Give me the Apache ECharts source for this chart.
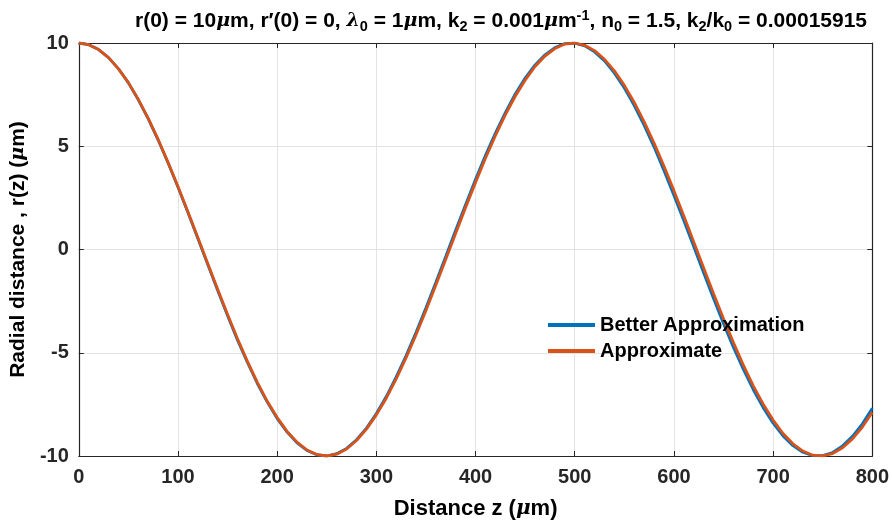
<!DOCTYPE html>
<html>
<head>
<meta charset="utf-8">
<script src="https://cdn.jsdelivr.net/npm/echarts@6/dist/echarts.min.js"></script>
<style>
  html, body { margin: 0; padding: 0; background: #fff; }
  #chart { width: 892px; height: 525px; }
</style>
</head>
<body>
<div id="chart"></div>
<script>
// z positions (um), every 10 um
const zVals = [0, 10, 20, 30, 40, 50, 60, 70, 80, 90, 100, 110, 120, 130, 140, 150, 160, 170, 180, 190,
  200, 210, 220, 230, 240, 250, 260, 270, 280, 290, 300, 310, 320, 330, 340, 350, 360, 370, 380, 390,
  400, 410, 420, 430, 440, 450, 460, 470, 480, 490, 500, 510, 520, 530, 540, 550, 560, 570, 580, 590,
  600, 610, 620, 630, 640, 650, 660, 670, 680, 690, 700, 710, 720, 730, 740, 750, 760, 770, 780, 790, 800];
// blue curve, r(z) in um
const betterVals = [10.00, 9.92, 9.68, 9.29, 8.75, 8.07, 7.25, 6.33, 5.30, 4.19, 3.01, 1.79, 0.53, -0.73,
  -1.99, -3.21, -4.39, -5.47, -6.49, -7.39, -8.19, -8.84, -9.36, -9.73, -9.94, -10.00, -9.89, -9.63,
  -9.21, -8.65, -7.94, -7.12, -6.17, -5.14, -4.01, -2.82, -1.59, -0.33, 0.94, 2.18, 3.40, 4.56, 5.64,
  6.63, 7.53, 8.30, 8.94, 9.43, 9.78, 9.97, 9.99, 9.86, 9.57, 9.13, 8.54, 7.82, 6.97, 6.01, 4.96, 3.82,
  2.62, 1.39, 0.13, -1.14, -2.38, -3.59, -4.74, -5.81, -6.79, -7.66, -8.41, -9.03, -9.50, -9.82, -9.98,
  -9.98, -9.83, -9.51, -9.05, -8.44, -7.69];
// orange curve, r(z) in um
const approxVals = [10.00, 9.92, 9.68, 9.29, 8.75, 8.08, 7.27, 6.35, 5.33, 4.22, 3.05, 1.83, 0.58, -0.68,
  -1.93, -3.15, -4.32, -5.42, -6.43, -7.35, -8.14, -8.81, -9.33, -9.71, -9.93, -10.00, -9.91, -9.66,
  -9.25, -8.70, -8.01, -7.20, -6.27, -5.24, -4.13, -2.95, -1.72, -0.47, 0.79, 2.04, 3.25, 4.42, 5.51,
  6.52, 7.42, 8.20, 8.86, 9.37, 9.73, 9.95, 10.00, 9.89, 9.63, 9.21, 8.65, 7.95, 7.12, 6.18, 5.15, 4.03,
  2.85, 1.62, 0.36, -0.90, -2.14, -3.35, -4.51, -5.60, -6.60, -7.49, -8.26, -8.91, -9.41, -9.76, -9.96,
  -9.99, -9.88, -9.60, -9.17, -8.60, -7.88];

const seriesNames = ['Better Approximation', 'Approximate'];
const seriesColors = ['#0072BD', '#D95319'];

const FONT = "'Liberation Sans', Arial, sans-serif";
const axisCol = '#262626';

function pairs(ys) {
  return zVals.map((z, i) => [z, ys[i]]);
}

const chart = echarts.init(document.getElementById('chart'));

const base = { fontFamily: FONT, fontWeight: 'bold', fontSize: 21, color: '#000' };
const sub = { fontFamily: FONT, fontWeight: 'bold', fontSize: 14.5, color: '#000', padding: [11, 0, 0, 0] };
const sup = { fontFamily: FONT, fontWeight: 'bold', fontSize: 14.5, color: '#000', padding: [0, 0, 10, 0] };
const greek = { fontFamily: "'DejaVu Serif', serif", fontStyle: 'italic', fontSize: 19, color: '#000' };

const option = {
  backgroundColor: '#fff',
  animation: false,
  title: {
    text: 'r(0) = 10{g|μ}m, r′(0) = 0, {g|λ}{sub|0} = 1{g|μ}m, k{sub|2} = 0.001{g|μ}m{sup|-1}, n{sub|0} = 1.5, k{sub|2}/k{sub|0} = 0.00015915',
    left: 130,
    top: 3,
    textStyle: Object.assign({}, base, {
      rich: { sub: sub, sup: sup, g: greek }
    })
  },
  grid: { left: 78, right: 17, top: 43, bottom: 66 },
  legend: {
    data: seriesNames,
    orient: 'vertical',
    left: 543,
    top: 310,
    icon: 'rect',
    itemWidth: 47,
    itemHeight: 4,
    itemGap: 6,
    textStyle: { fontFamily: FONT, fontWeight: 'bold', fontSize: 20, color: '#000' }
  },
  xAxis: [
    {
      type: 'value', min: 0, max: 800, interval: 100,
      name: 'Distance z ({g|μ}m)',
      nameLocation: 'middle',
      nameGap: 42,
      nameTextStyle: Object.assign({}, base, { fontSize: 22, rich: { g: Object.assign({}, greek, { fontSize: 20 }) } }),
      axisLine: { show: true, onZero: false, lineStyle: { color: axisCol, width: 1.2 } },
      axisTick: { show: true, inside: true, length: 5, lineStyle: { color: axisCol } },
      axisLabel: { margin: 11, fontFamily: FONT, fontWeight: 'bold', fontSize: 20, color: '#262626' },
      splitLine: { show: true, lineStyle: { color: '#e3e3e3', width: 1 } }
    },
    {
      type: 'value', min: 0, max: 800, interval: 100, position: 'top',
      axisLine: { show: true, onZero: false, lineStyle: { color: axisCol, width: 1.2 } },
      axisTick: { show: true, inside: true, length: 5, lineStyle: { color: axisCol } },
      axisLabel: { show: false },
      splitLine: { show: false }
    }
  ],
  yAxis: [
    {
      type: 'value', min: -10, max: 10, interval: 5,
      name: 'Radial distance , r(z) ({g|μ}m)',
      nameLocation: 'middle',
      nameGap: 44,
      nameTextStyle: Object.assign({}, base, { fontSize: 21, rich: { g: Object.assign({}, greek, { fontSize: 19 }) } }),
      axisLine: { show: true, onZero: false, lineStyle: { color: axisCol, width: 1.2 } },
      axisTick: { show: true, inside: true, length: 5, lineStyle: { color: axisCol } },
      axisLabel: { margin: 10, fontFamily: FONT, fontWeight: 'bold', fontSize: 20, color: '#262626' },
      splitLine: { show: true, lineStyle: { color: '#e3e3e3', width: 1 } }
    },
    {
      type: 'value', min: -10, max: 10, interval: 5, position: 'right',
      axisLine: { show: true, onZero: false, lineStyle: { color: axisCol, width: 1.2 } },
      axisTick: { show: true, inside: true, length: 5, lineStyle: { color: axisCol } },
      axisLabel: { show: false },
      splitLine: { show: false }
    }
  ],
  series: [
    {
      name: seriesNames[0], type: 'line', data: pairs(betterVals),
      showSymbol: false, color: seriesColors[0],
      lineStyle: { width: 2.8, color: seriesColors[0] }
    },
    {
      name: seriesNames[1], type: 'line', data: pairs(approxVals),
      showSymbol: false, color: seriesColors[1],
      lineStyle: { width: 2.8, color: seriesColors[1] }
    }
  ]
};

chart.setOption(option);
</script>
</body>
</html>
